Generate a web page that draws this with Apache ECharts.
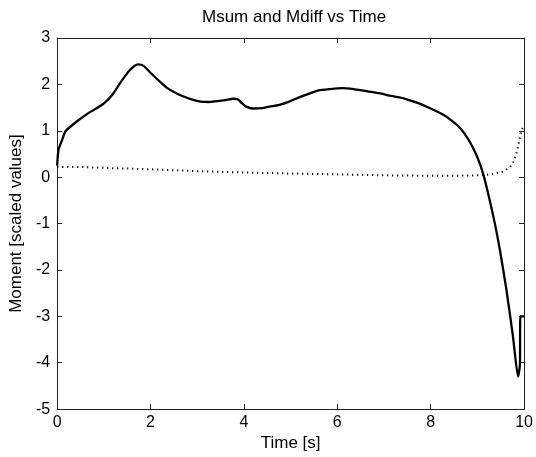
<!DOCTYPE html>
<html>
<head>
<meta charset="utf-8">
<script src="https://cdn.jsdelivr.net/npm/echarts@6/dist/echarts.min.js"></script>
<style>
  html, body { margin: 0; padding: 0; background: #fff; }
  #chart { width: 536px; height: 457px; }
</style>
</head>
<body>
<div id="chart"></div>
<script>
// Msum (solid line)
const timeSum = [0, 0.03, 0.11, 0.18, 0.42, 0.67, 0.99, 1.2, 1.37, 1.55, 1.73, 1.85, 2.01, 2.2, 2.36,
  2.55, 2.71, 2.9, 3.07, 3.25, 3.42, 3.6, 3.77, 3.87, 3.95, 4.05, 4.19, 4.4, 4.6, 4.76, 4.97, 5.18,
  5.4, 5.6, 5.85, 6.1, 6.35, 6.59, 6.9, 7.15, 7.45, 7.72, 8.0, 8.28, 8.45, 8.6, 8.81, 8.99, 9.13,
  9.34, 9.48, 9.62, 9.76, 9.87, 9.91, 9.92, 10]
const msum = [0.25, 0.59, 0.81, 0.99, 1.2, 1.38, 1.58, 1.8, 2.06, 2.3, 2.43, 2.4, 2.24, 2.06, 1.92,
  1.81, 1.74, 1.67, 1.63, 1.62, 1.64, 1.66, 1.69, 1.68, 1.6, 1.52, 1.48, 1.49, 1.53, 1.56, 1.63, 1.72,
  1.8, 1.87, 1.9, 1.92, 1.9, 1.86, 1.81, 1.75, 1.69, 1.6, 1.48, 1.34, 1.22, 1.09, 0.81, 0.45, 0.05,
  -0.84, -1.56, -2.42, -3.42, -4.3, -4.05, -3.0, -3.0]

// Mdiff (dotted line)
const timeDiff = [0, 0.5, 1, 2, 3, 4, 5, 6, 7, 8, 8.5, 9.0, 9.3, 9.55, 9.7, 9.76, 9.82, 9.87, 9.94, 10]
const mdiff = [0.22, 0.22, 0.2, 0.17, 0.13, 0.1, 0.08, 0.06, 0.04, 0.03, 0.03, 0.04, 0.06, 0.12,
  0.22, 0.31, 0.45, 0.66, 1.0, 1.12]

const xTicks = { min: 0, max: 10, interval: 2 }
const yTicks = { min: -5, max: 3, interval: 1 }

const font = 'Liberation Sans, Arial, sans-serif'
const axisColor = '#222'

function pairs(xs, ys) {
  return xs.map((x, i) => [x, ys[i]])
}

const chart = echarts.init(document.getElementById('chart'))

// box around the plot with ticks pointing inwards, like matlab
const frameX = {
  type: 'value',
  min: xTicks.min,
  max: xTicks.max,
  interval: xTicks.interval,
  axisLine: { show: true, onZero: false, lineStyle: { color: axisColor, width: 1 } },
  axisTick: { show: true, inside: true, length: 5, lineStyle: { color: axisColor } },
  splitLine: { show: false }
}
const frameY = {
  type: 'value',
  min: yTicks.min,
  max: yTicks.max,
  interval: yTicks.interval,
  axisLine: { show: true, onZero: false, lineStyle: { color: axisColor, width: 1 } },
  axisTick: { show: true, inside: true, length: 5, lineStyle: { color: axisColor } },
  splitLine: { show: false }
}

chart.setOption({
  animation: false,
  backgroundColor: '#fff',
  title: {
    text: 'Msum and Mdiff vs Time',
    left: 197,
    top: 4,
    textStyle: { fontFamily: font, fontSize: 17, fontWeight: 'normal', color: '#000' }
  },
  grid: { left: 55, right: 8, top: 38, bottom: 47 },
  xAxis: [
    Object.assign({}, frameX, {
      position: 'bottom',
      name: 'Time [s]',
      nameLocation: 'middle',
      nameGap: 25,
      nameTextStyle: { fontFamily: font, fontSize: 17, color: '#000' },
      axisLabel: { margin: 5, fontFamily: font, fontSize: 16, color: '#000' }
    }),
    Object.assign({}, frameX, { position: 'top', axisLabel: { show: false } })
  ],
  yAxis: [
    Object.assign({}, frameY, {
      position: 'left',
      name: 'Moment [scaled values]',
      nameLocation: 'middle',
      nameGap: 29,
      nameTextStyle: { fontFamily: font, fontSize: 17, color: '#000' },
      axisLabel: { margin: 7, fontFamily: font, fontSize: 16, color: '#000' }
    }),
    Object.assign({}, frameY, { position: 'right', axisLabel: { show: false } })
  ],
  series: [
    {
      name: 'Msum',
      type: 'line',
      xAxisIndex: 0,
      yAxisIndex: 0,
      showSymbol: false,
      smooth: 0.2,
      lineStyle: { color: '#000', width: 2.3 },
      data: pairs(timeSum, msum)
    },
    {
      name: 'Mdiff',
      type: 'line',
      xAxisIndex: 0,
      yAxisIndex: 0,
      showSymbol: false,
      lineStyle: { color: '#000', width: 2, type: [1.2, 3.8] },
      data: pairs(timeDiff, mdiff)
    }
  ]
})
</script>
</body>
</html>
